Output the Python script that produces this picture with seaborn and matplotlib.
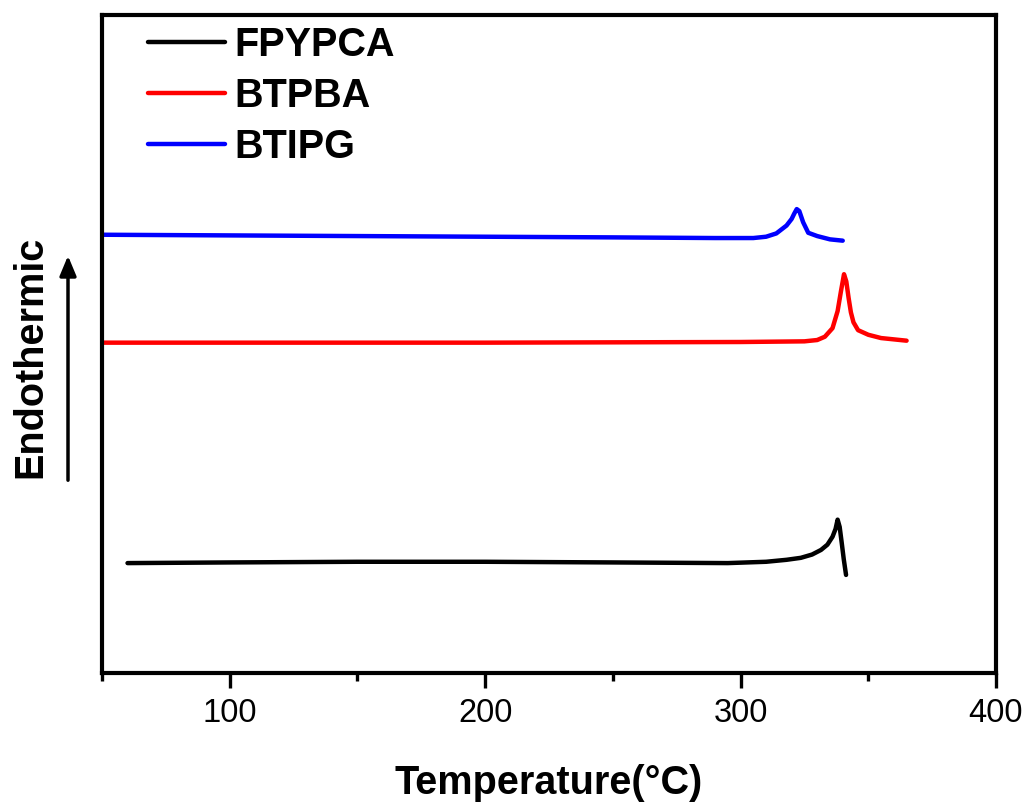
import numpy as np
import pandas as pd
import matplotlib
matplotlib.use("Agg")
import matplotlib.pyplot as plt
import seaborn as sns

# ---- data ----
series_names = ["FPYPCA", "BTPBA", "BTIPG"]
series_colors = ["#000000", "#ff0000", "#0000ff"]

fpypca_T = [60, 100, 150, 200, 250, 295, 310, 318, 323.6, 328, 331.5, 334, 336, 337.2, 338, 338.8, 339.6, 340.4, 341.3]
fpypca_v = [16.7, 16.8, 16.9, 16.9, 16.8, 16.7, 16.9, 17.2, 17.5, 18.0, 18.7, 19.5, 20.7, 21.9, 23.3, 22.2, 19.8, 17.3, 14.9]

btpba_T = [50, 100, 200, 300, 325, 330, 333, 336, 338, 339.3, 340.5, 341.4, 342.3, 343.2, 344.2, 346, 350, 355, 360, 365]
btpba_v = [50.2, 50.2, 50.2, 50.3, 50.4, 50.6, 51.1, 52.4, 55.0, 58.0, 60.6, 59.5, 57.0, 54.8, 53.3, 52.1, 51.4, 50.9, 50.7, 50.5]

btipg_T = [50, 100, 150, 200, 250, 290, 305, 310, 314, 318, 320, 321, 322, 323, 324.5, 326.5, 330, 335, 340]
btipg_v = [66.6, 66.5, 66.4, 66.3, 66.2, 66.1, 66.1, 66.3, 66.8, 68.0, 69.0, 69.8, 70.5, 70.2, 68.5, 66.9, 66.4, 65.9, 65.7]

x_major_ticks = [100, 200, 300, 400]
x_minor_ticks = [50, 150, 250, 350]

frames = []
for name, T, v in [("FPYPCA", fpypca_T, fpypca_v),
                   ("BTPBA", btpba_T, btpba_v),
                   ("BTIPG", btipg_T, btipg_v)]:
    frames.append(pd.DataFrame({"Temperature": T, "Heat flow": v, "Sample": name}))
df = pd.concat(frames, ignore_index=True)

sns.set_style("ticks")
plt.rcParams["font.family"] = ["Liberation Sans", "DejaVu Sans"]
plt.rcParams["text.color"] = "black"
plt.rcParams["axes.labelcolor"] = "black"
plt.rcParams["xtick.color"] = "black"
plt.rcParams["ytick.color"] = "black"

fig = plt.figure(figsize=(10.27, 8.05), dpi=100)
ax = fig.add_axes([0.0993, 0.164, 0.8705, 0.8174])

sns.lineplot(data=df, x="Temperature", y="Heat flow", hue="Sample",
             hue_order=series_names, palette=series_colors,
             estimator=None, sort=False, linewidth=3.2, ax=ax)

ax.set_xlim(50, 400)
ax.set_ylim(0, 100)
ax.set_xticks(x_major_ticks)
ax.set_xticks(x_minor_ticks, minor=True)
ax.set_xticklabels([str(t) for t in x_major_ticks], fontsize=23.5, color="black")
ax.set_yticks([])
ax.set_xlabel("Temperature(°C)", fontsize=28.5, fontweight="bold", labelpad=25,
              color="black")
ax.set_ylabel("")
ax.tick_params(axis="x", which="major", direction="out", length=11, width=2.4, pad=7,
               colors="black")
ax.tick_params(axis="x", which="minor", direction="out", length=6, width=2.4,
               colors="black")
for sp in ax.spines.values():
    sp.set_linewidth(3.0)
    sp.set_visible(True)
    sp.set_color("black")

leg = ax.legend(loc="upper left", bbox_to_anchor=(0.045, 0.993), frameon=False,
                handlelength=1.95, handletextpad=0.22,
                labelspacing=0.33, borderpad=0.15, borderaxespad=0.0,
                prop={"weight": "bold", "size": 28.5})
for line in leg.get_lines():
    line.set_linewidth(3.2)
for txt in leg.get_texts():
    txt.set_color("black")

# y label and arrow
fig.text(30 / 1027, 1 - 357 / 805, "Endothermic", rotation=90, fontsize=28.5,
         fontweight="bold", ha="center", va="center", color="black")
fig.add_artist(matplotlib.patches.FancyArrowPatch(
    (68 / 1027, 1 - 483 / 805), (68 / 1027, 1 - 253 / 805),
    transform=fig.transFigure, arrowstyle="-|>,head_length=12,head_width=5",
    mutation_scale=1, linewidth=2.5, color="black"))

fig.savefig("out.png", dpi=100)
